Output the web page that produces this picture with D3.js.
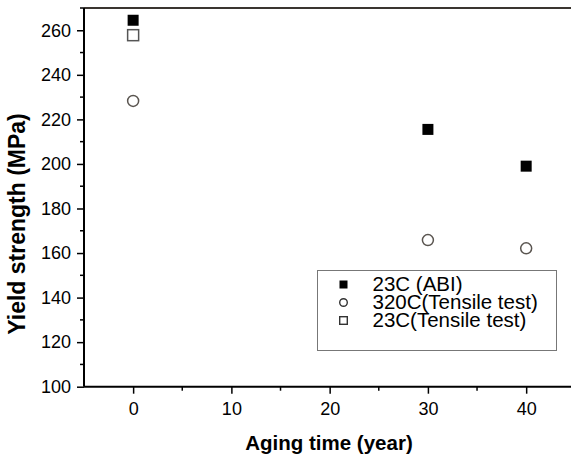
<!DOCTYPE html>
<html>
<head>
<meta charset="utf-8">
<script src="https://cdn.jsdelivr.net/npm/d3@7"></script>
<style>
  body { margin: 0; background: #fff; }
  svg { display: block; }
</style>
</head>
<body>
<div id="chart"></div>
<script>
// Data
const agingYears = [0, 30, 40];
const abi23C = [264.5, 215.5, 199];
const tensile320C = [228.3, 165.8, 162.1];
const tensile23CYears = [0];
const tensile23C = [257.8];
const xTicks = [0, 10, 20, 30, 40];
const yTicks = [100, 120, 140, 160, 180, 200, 220, 240, 260];
const legendLabels = ["23C (ABI)", "320C(Tensile test)", "23C(Tensile test)"];

const width = 571;
const height = 457;
const margin = { top: 8, left: 84 };
const font = "Arial, 'Liberation Sans', sans-serif";

const svg = d3
  .select("#chart")
  .append("svg")
  .attr("width", width)
  .attr("height", height)
  .style("font-family", font);

// Scales (plot runs a bit past the right edge, as in the picture)
const x = d3.scaleLinear().domain([-5, 45]).range([margin.left, 575.3]);
const y = d3.scaleLinear().domain([100, 270]).range([386.7, margin.top]);

// Top border
svg
  .append("line")
  .attr("x1", margin.left)
  .attr("x2", width)
  .attr("y1", y(270))
  .attr("y2", y(270))
  .attr("stroke", "#3a3530")
  .attr("stroke-width", 2);

// Minor ticks
const yMinor = d3.range(110, 271, 20);
svg
  .append("g")
  .selectAll("line")
  .data(yMinor)
  .enter()
  .append("line")
  .attr("x1", margin.left - 4)
  .attr("x2", margin.left)
  .attr("y1", (d) => y(d))
  .attr("y2", (d) => y(d))
  .attr("stroke", "#000")
  .attr("stroke-width", 1.5);

const xMinor = [5, 15, 25, 35];
svg
  .append("g")
  .selectAll("line")
  .data(xMinor)
  .enter()
  .append("line")
  .attr("x1", (d) => x(d))
  .attr("x2", (d) => x(d))
  .attr("y1", y(100))
  .attr("y2", y(100) + 4)
  .attr("stroke", "#000")
  .attr("stroke-width", 1.5);

// Axes
const yAxis = svg
  .append("g")
  .attr("transform", `translate(${margin.left},0)`)
  .call(d3.axisLeft(y).tickValues(yTicks).tickSize(7).tickPadding(6));

const xAxis = svg
  .append("g")
  .attr("transform", `translate(0,${y(100)})`)
  .call(d3.axisBottom(x).tickValues(xTicks).tickSize(7).tickPadding(9));

[xAxis, yAxis].forEach((g) => {
  g.select(".domain").attr("stroke", "#000").attr("stroke-width", 2);
  g.selectAll(".tick line").attr("stroke", "#000").attr("stroke-width", 1.5);
  g.selectAll(".tick text")
    .attr("fill", "#000")
    .style("font-size", "18px")
    .style("font-family", font);
});
// extend x domain line to the right edge
xAxis.select(".domain").attr("d", `M${margin.left},0H${width}`);
yAxis.select(".domain").attr("d", `M0,${y(270)}V${y(100)}`);

// Axis titles
svg
  .append("text")
  .attr("x", 329)
  .attr("y", 450)
  .attr("text-anchor", "middle")
  .style("font-size", "20.5px")
  .style("font-weight", "bold")
  .text("Aging time (year)");

svg
  .append("text")
  .attr("transform", `translate(25,224) rotate(-90)`)
  .attr("text-anchor", "middle")
  .style("font-size", "23px")
  .style("font-weight", "bold")
  .text("Yield strength (MPa)");

// Markers
const squareSize = 11;

svg
  .append("g")
  .selectAll("circle")
  .data(agingYears.map((d, i) => ({ x: d, y: tensile320C[i] })))
  .enter()
  .append("circle")
  .attr("cx", (d) => x(d.x))
  .attr("cy", (d) => y(d.y))
  .attr("r", 5.5)
  .attr("fill", "#fff")
  .attr("stroke", "#5a5550")
  .attr("stroke-width", 1.5);

svg
  .append("g")
  .selectAll("rect")
  .data(tensile23CYears.map((d, i) => ({ x: d, y: tensile23C[i] })))
  .enter()
  .append("rect")
  .attr("x", (d) => x(d.x) - squareSize / 2)
  .attr("y", (d) => y(d.y) - squareSize / 2)
  .attr("width", squareSize)
  .attr("height", squareSize)
  .attr("fill", "#fff")
  .attr("stroke", "#555")
  .attr("stroke-width", 1.5);

svg
  .append("g")
  .selectAll("rect")
  .data(agingYears.map((d, i) => ({ x: d, y: abi23C[i] })))
  .enter()
  .append("rect")
  .attr("x", (d) => x(d.x) - squareSize / 2)
  .attr("y", (d) => y(d.y) - squareSize / 2)
  .attr("width", squareSize)
  .attr("height", squareSize)
  .attr("fill", "#000");

// Legend
const legend = svg.append("g").attr("transform", "translate(317.5,270.5)");

legend
  .append("rect")
  .attr("width", 239)
  .attr("height", 80)
  .attr("fill", "#fff")
  .attr("stroke", "#777")
  .attr("stroke-width", 1);

const rows = legend
  .selectAll("g.row")
  .data(legendLabels)
  .enter()
  .append("g")
  .attr("class", "row")
  .attr("transform", (d, i) => `translate(26,${14 + i * 18})`);

rows.each(function (d, i) {
  const g = d3.select(this);
  if (i === 0) {
    g.append("rect").attr("x", -4).attr("y", -4).attr("width", 8).attr("height", 8).attr("fill", "#000");
  } else if (i === 1) {
    g.append("circle").attr("r", 3.8).attr("fill", "#fff").attr("stroke", "#333").attr("stroke-width", 1.4);
  } else {
    g.append("rect").attr("x", -3.8).attr("y", -3.8).attr("width", 7.6).attr("height", 7.6)
      .attr("fill", "#fff").attr("stroke", "#333").attr("stroke-width", 1.4);
  }
});

rows
  .append("text")
  .attr("x", 29)
  .attr("y", 6.5)
  .style("font-size", "20.5px")
  .text((d) => d);
</script>
</body>
</html>
